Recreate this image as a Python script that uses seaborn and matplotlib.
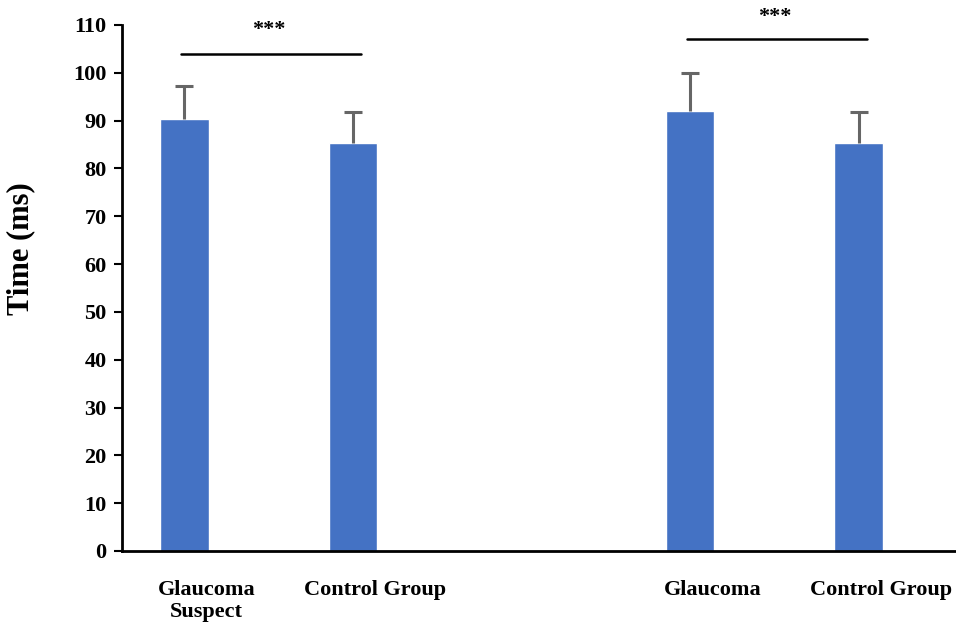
import matplotlib

matplotlib.use("Agg")
import matplotlib.pyplot as plt
import pandas as pd
import seaborn as sns

# --- data ---
groups = ["GS", "CG1", "gap", "G", "CG2"]
tick_labels = ["Glaucoma\nSuspect", "Control Group", "", "Glaucoma", "Control Group"]
means = [90.3, 85.3, None, 92.0, 85.3]
sds = [6.9, 6.5, None, 8.0, 6.5]
yticks = list(range(0, 111, 10))
sig_pairs = [(0, 1, 103.9, 109.0), (3, 4, 107.1, 111.6)]

BAR = "#4472C4"
FONT = "Liberation Serif"
LABEL_OFFSET = 0.132  # source puts category labels a bit right of the bars

sns.set_theme(style="white")
plt.rcParams["font.family"] = [FONT, "DejaVu Serif"]
plt.rcParams["font.weight"] = "bold"
plt.rcParams["text.color"] = "black"
plt.rcParams["axes.labelcolor"] = "black"
plt.rcParams["xtick.color"] = "black"
plt.rcParams["ytick.color"] = "black"

df = pd.DataFrame({"group": groups, "time": means, "sd": sds})

fig = plt.figure(figsize=(9.56, 6.25), dpi=100)
ax = fig.add_axes([0.1276, 0.1184, 0.88, 0.8416])

sns.barplot(data=df.dropna(), x="group", y="time", order=groups,
            color=BAR, saturation=1, width=0.288, ax=ax)

# upper-only SD whiskers
for i, (m, s) in enumerate(zip(means, sds)):
    if m is None:
        continue
    _, caps, _ = ax.errorbar(i, m, yerr=[[0], [s]], fmt="none",
                             ecolor="#666666", elinewidth=2.2, capsize=6.5,
                             capthick=2.2, zorder=3)
    caps[0].set_visible(False)  # drop the cap sitting on the bar top

# significance brackets
for a, b, yline, ystar in sig_pairs:
    ax.plot([a - 0.02, b + 0.05], [yline, yline], color="black", lw=1.8,
            clip_on=False)
    ax.text((a + b) / 2, ystar, "***", ha="center", va="center",
            fontsize=16, fontweight="bold", color="black", clip_on=False)

ax.set_ylim(0, 110)
ax.set_xlim(-0.37, 4.62)
ax.set_yticks(yticks)
ax.set_xticks([i + LABEL_OFFSET for i in range(len(groups))])
ax.set_xticklabels(tick_labels, fontsize=16, fontweight="bold", va="top",
                   linespacing=1.15, color="black")
for lbl in ax.get_yticklabels():
    lbl.set_fontsize(16)
    lbl.set_fontweight("bold")
    lbl.set_color("black")

ax.set_xlabel("")
ax.set_ylabel("Time (ms)", fontsize=22, fontweight="bold", color="black")
ax.yaxis.set_label_coords(-0.1034, 0.574)

sns.despine(ax=ax, top=True, right=True)
for side in ("left", "bottom"):
    ax.spines[side].set_color("black")
    ax.spines[side].set_linewidth(2)
ax.tick_params(axis="y", left=True, length=6, width=1.5, color="black", pad=5)
ax.tick_params(axis="x", bottom=False, pad=15)

fig.savefig("out.png", dpi=100)
plt.close(fig)
